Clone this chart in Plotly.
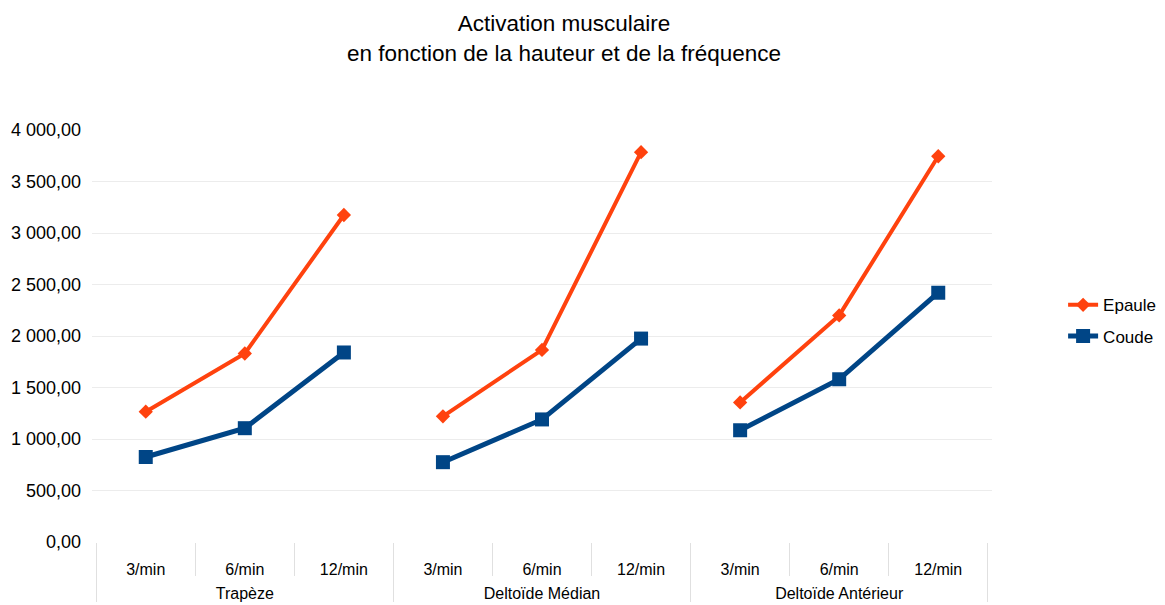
import plotly.graph_objects as go

groups = ["Trapèze", "Deltoïde Médian", "Deltoïde Antérieur"]
frequencies = ["3/min", "6/min", "12/min"]

epaule = {
    "Trapèze": [1265, 1830, 3175],
    "Deltoïde Médian": [1220, 1865, 3785],
    "Deltoïde Antérieur": [1355, 2200, 3745],
}
coude = {
    "Trapèze": [825, 1105, 1840],
    "Deltoïde Médian": [775, 1190, 1975],
    "Deltoïde Antérieur": [1085, 1580, 2420],
}

y_ticks = [0, 500, 1000, 1500, 2000, 2500, 3000, 3500, 4000]

ORANGE = "#ff420e"
BLUE = "#004586"
FONT = "Liberation Sans, Arial, sans-serif"

fig = go.Figure()

# One segment per group so the lines break between groups.
# A blank first line on the group label pushes it below the frequency labels.
for i, g in enumerate(groups):
    xcat = [["<br>" + g] * len(frequencies), frequencies]
    fig.add_trace(go.Scatter(
        x=xcat, y=epaule[g], name="Epaule", legendgroup="Epaule",
        showlegend=(i == 0), mode="lines+markers",
        line=dict(color=ORANGE, width=4),
        marker=dict(symbol="diamond", size=11, color=ORANGE),
    ))
for i, g in enumerate(groups):
    xcat = [["<br>" + g] * len(frequencies), frequencies]
    fig.add_trace(go.Scatter(
        x=xcat, y=coude[g], name="Coude", legendgroup="Coude",
        showlegend=(i == 0), mode="lines+markers",
        line=dict(color=BLUE, width=5),
        marker=dict(symbol="square", size=14, color=BLUE),
    ))

# the page body has an 8px margin, so the figure is 8px smaller each way
fig.update_layout(
    width=1157, height=597,
    margin=dict(l=84, r=173, t=122, b=63, autoexpand=False),
    paper_bgcolor="white", plot_bgcolor="white",
    separators=", ",
    font=dict(family=FONT, size=17, color="#000000"),
    title=dict(
        text="Activation musculaire<br>en fonction de la hauteur et de la fréquence",
        x=0.4806, xanchor="center", xref="container",
        y=0.961, yanchor="top",
        font=dict(family=FONT, size=22.5, color="#000000"),
    ),
    legend=dict(
        x=1.079, xanchor="left", y=0.537, yanchor="middle",
        font=dict(family=FONT, size=17, color="#000000"),
        bgcolor="rgba(0,0,0,0)", tracegroupgap=6,
    ),
    showlegend=True,
)

fig.update_xaxes(
    type="multicategory", automargin=False,
    showgrid=False, zeroline=False, showline=False,
    ticks="outside", tickson="boundaries", ticklen=33,
    tickcolor="#e0e0e0", tickwidth=1,
    showdividers=True, dividercolor="#e0e0e0", dividerwidth=1,
    ticklabelstandoff=16,
    tickfont=dict(family=FONT, size=16, color="#000000"),
)
fig.update_yaxes(
    automargin=False,
    range=[0, 4000], tickvals=y_ticks, tickformat=",.2f",
    showgrid=True, gridcolor="#ececec", gridwidth=1,
    zeroline=False, showline=False, ticks="",
    ticklabelstandoff=10,
    tickfont=dict(family=FONT, size=18, color="#000000"),
)

fig.write_html("out.html")
